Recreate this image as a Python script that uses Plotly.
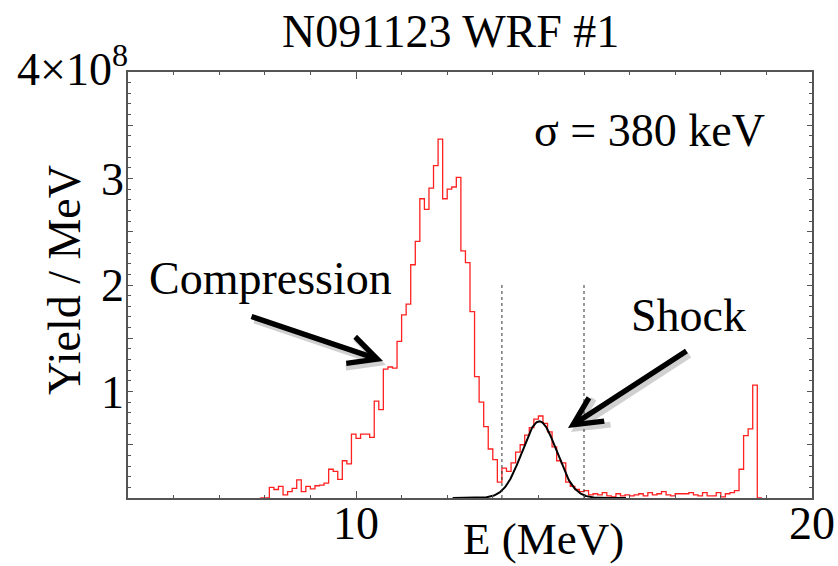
import numpy as np
import plotly.graph_objects as go

# ---------------- data ----------------
bin_start = 7.9      # MeV, left edge of first bin
bin_width = 0.1      # MeV
# Yield / MeV in units of 1e8, one value per 0.1 MeV bin starting at 7.9 MeV
yield_vals = [
    0.00, 0.00,                                                  # 7.9, 8.0
    0.10, 0.08, 0.11, 0.03, 0.06, 0.09, 0.17, 0.06, 0.11, 0.085, # 8.1 - 9.0
    0.115, 0.12, 0.14, 0.27, 0.25, 0.175, 0.35, 0.32, 0.60, 0.56,# 9.1 - 10.0
    0.60, 0.60, 0.57, 0.91, 0.83, 1.21, 1.23, 1.22, 1.47, 1.72,  # 10.1 - 11.0
    1.82, 2.19, 2.41, 2.81, 2.71, 2.91, 3.12, 3.37, 2.81, 2.90,  # 11.1 - 12.0
    2.92, 3.01, 2.32, 2.21, 1.75, 1.14, 0.90, 0.67, 0.46, 0.36,  # 12.1 - 13.0
    0.15, 0.28, 0.25, 0.33, 0.43, 0.50, 0.59, 0.66, 0.74, 0.77,  # 13.1 - 14.0
    0.70, 0.62, 0.48, 0.35, 0.33, 0.15, 0.11, 0.08, 0.06, 0.07,  # 14.1 - 15.0
    0.03, 0.04, 0.03, 0.05, 0.02, 0.01, 0.04, 0.02, 0.03, 0.02,  # 15.1 - 16.0
    0.03, 0.04, 0.02, 0.05, 0.03, 0.04, 0.06, 0.03, 0.02, 0.04,  # 16.1 - 17.0
    0.04, 0.04, 0.05, 0.03, 0.02, 0.05, 0.02, 0.02, 0.05, 0.01,  # 17.1 - 18.0
    0.04, 0.05, 0.07, 0.27, 0.585, 0.65, 1.06, 0.00,            # 18.1 - 18.8, 18.9
]

# Gaussian fit to the shock peak
fit_amp = 0.72       # 1e8 / MeV
fit_mean = 14.02     # MeV
fit_sigma = 0.38     # MeV
fit_window = [13.2, 15.0]   # dashed lines (fit range)

x_range = [5, 20]
y_range = [0, 4]
x_tickvals = [10, 20]
y_tickvals = [0.5, 1, 1.5, 2, 2.5, 3, 3.5]
y_ticktext = ["", "1", "", "2", "", "3", ""]

# ---------------- figure ----------------
edges = bin_start + bin_width * np.arange(len(yield_vals) + 1)
hx = np.concatenate([[edges[0]], edges])
hy = np.concatenate([[0.0], yield_vals, [yield_vals[-1]]])

gx = np.linspace(fit_mean - 5 * fit_sigma, fit_mean + 5 * fit_sigma, 300)
gy = fit_amp * np.exp(-0.5 * ((gx - fit_mean) / fit_sigma) ** 2)

FONT = "Liberation Serif"
fig = go.Figure()
fig.add_trace(go.Scatter(x=hx, y=hy, mode="lines", line=dict(color="#ff2020", width=1.3, shape="hv"),
                         hoverinfo="skip"))
fig.add_trace(go.Scatter(x=gx, y=gy, mode="lines", line=dict(color="black", width=2), hoverinfo="skip"))

for xv in fit_window:
    fig.add_shape(type="line", xref="x", yref="y", x0=xv, x1=xv, y0=0, y1=2.0,
                  line=dict(color="#333333", width=1, dash="3px,3px"))

L, R, T, B = 128, 26, 72, 68
W, H = 838, 566
pw, ph = W - L - R, H - T - B


def px(xp):
    return (xp - L) / pw


def py(yp):
    return (H - B - yp) / ph


fig.update_layout(
    width=W, height=H, margin=dict(l=L, r=R, t=T, b=B, autoexpand=False),
    paper_bgcolor="white", plot_bgcolor="white", showlegend=False,
    font=dict(family=FONT, size=46, color="black"),
)
axis_common = dict(showgrid=False, zeroline=False, showline=True, linecolor="#555555", linewidth=1.5,
                   mirror="allticks", ticks="inside", tickcolor="#555555", automargin=False,
                   tickfont=dict(family=FONT, size=46, color="black"))
fig.update_xaxes(range=x_range, tickvals=x_tickvals, ticktext=[str(v) for v in x_tickvals],
                 ticklen=7, tickwidth=1.2, ticklabelstandoff=-16,
                 minor=dict(dtick=1, tick0=0, ticklen=3.5, ticks="inside", tickcolor="#555555", tickwidth=1),
                 **axis_common)
fig.update_yaxes(range=y_range, tickvals=y_tickvals, ticktext=y_ticktext,
                 ticklen=5, tickwidth=1.2, ticklabelstandoff=-7,
                 minor=dict(dtick=0.1, tick0=0, ticklen=3, ticks="inside", tickcolor="#555555", tickwidth=1),
                 **axis_common)

ann = []
# title
ann.append(dict(text="N091123 WRF #1", xref="paper", yref="paper", x=px(450), y=py(32),
                xanchor="center", yanchor="middle", showarrow=False, font=dict(size=46)))
# 4x10^8 label
ann.append(dict(text="4×10<sup>8</sup>", xref="paper", yref="paper", x=px(130), y=py(66),
                xanchor="right", yanchor="middle", showarrow=False, font=dict(size=46)))
# axis titles
ann.append(dict(text="E (MeV)", xref="paper", yref="paper", x=px(543), y=py(539),
                xanchor="center", yanchor="middle", showarrow=False, font=dict(size=45)))
ann.append(dict(text="Yield / MeV", xref="paper", yref="paper", x=px(64), y=py(280),
                xanchor="center", yanchor="middle", showarrow=False, textangle=-90, font=dict(size=46)))
# sigma label
ann.append(dict(text="σ = 380 keV", xref="paper", yref="paper", x=px(649), y=py(130),
                xanchor="center", yanchor="middle", showarrow=False, font=dict(size=46)))
# labels
ann.append(dict(text="Compression", xref="paper", yref="paper", x=px(270), y=py(278),
                xanchor="center", yanchor="middle", showarrow=False, font=dict(size=46)))
ann.append(dict(text="Shock", xref="paper", yref="paper", x=px(688), y=py(315),
                xanchor="center", yanchor="middle", showarrow=False, font=dict(size=46)))

# arrows (tip given in data coords, tail as pixel offsets) with a soft shadow
arrows = [((5 + (383 - L) / 45.6), (498 - 361) / 106.5, 250 - 383, 316 - 361),
          ((5 + (568 - L) / 45.6), (498 - 428) / 106.5, 688 - 568, 350 - 428)]
for (tx, ty, axo, ayo) in arrows:
    ann.append(dict(x=tx, y=ty, xref="x", yref="y", ax=axo, ay=ayo, text="", showarrow=True,
                    arrowhead=5, arrowsize=1, arrowwidth=6, arrowcolor="rgba(0,0,0,0.18)",
                    xshift=3, yshift=-4))
    ann.append(dict(x=tx, y=ty, xref="x", yref="y", ax=axo, ay=ayo, text="", showarrow=True,
                    arrowhead=5, arrowsize=1, arrowwidth=5.5, arrowcolor="black"))

fig.update_layout(annotations=ann)
fig.write_html("out.html")
